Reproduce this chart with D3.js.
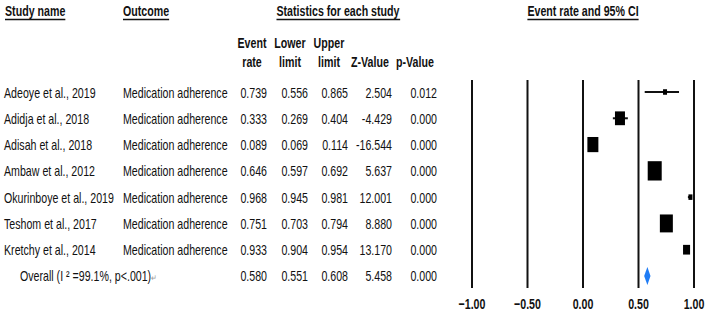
<!DOCTYPE html>
<html>
<head>
<meta charset="utf-8">
<script src="https://cdn.jsdelivr.net/npm/d3@7"></script>
<style>
  body { margin: 0; background: #fff; }
  svg text { font-family: "Liberation Sans", Arial, sans-serif; fill: #111; }
  .hdr { font-weight: bold; font-size: 15px; }
  .cell { font-size: 14px; }
</style>
</head>
<body>
<svg id="chart" width="709" height="322"></svg>
<script>
// Study data
const studies = ['Adeoye et al., 2019', 'Adidja et al., 2018', 'Adisah et al., 2018', 'Ambaw et al., 2012',
  'Okurinboye et al., 2019', 'Teshom et al., 2017', 'Kretchy et al., 2014'];
const outcomes = ['Medication adherence', 'Medication adherence', 'Medication adherence', 'Medication adherence',
  'Medication adherence', 'Medication adherence', 'Medication adherence'];
const eventRate = [0.739, 0.333, 0.089, 0.646, 0.968, 0.751, 0.933];
const lowerLimit = [0.556, 0.269, 0.069, 0.597, 0.945, 0.703, 0.904];
const upperLimit = [0.865, 0.404, 0.114, 0.692, 0.981, 0.794, 0.954];
const zValue = ['2.504', '-4.429', '-16.544', '5.637', '12.001', '8.880', '13.170'];
const pValue = ['0.012', '0.000', '0.000', '0.000', '0.000', '0.000', '0.000'];
const relWeight = [2.4, 15.0, 18.1, 29.4, 2.4, 25.3, 7.4];

// Overall (pooled) result
const overallLabel = 'Overall (I ² =99.1%, p<.001)';
const overall = { rate: 0.580, lower: 0.551, upper: 0.608, z: '5.458', p: '0.000' };

const xTicks = [-1, -0.5, 0, 0.5, 1];

const svg = d3.select('#chart');

// No narrow font is installed, so squeeze a regular sans horizontally
const SQUEEZE = { cell: 0.76, hdr: 0.71 };
function addText(parent, px, py, str, cls, anchor) {
  return parent.append('text')
    .attr('class', cls)
    .attr('transform', `translate(${px},${py}) scale(${SQUEEZE[cls]},1)`)
    .attr('text-anchor', anchor || 'start')
    .text(str);
}

// Scales
const x = d3.scaleLinear().domain([-1, 1]).range([472, 694]);
const rowY = d3.scalePoint()
  .domain(d3.range(studies.length + 1))
  .range([92, 276]);
const boxSize = d3.scaleSqrt().domain([0, d3.max(relWeight)]).range([0, 14]);

// Column headers
const headers = [
  { text: 'Study name', x: 5, anchor: 'start' },
  { text: 'Outcome', x: 123, anchor: 'start' },
  { text: 'Statistics for each study', x: 338, anchor: 'middle' },
  { text: 'Event rate and 95% CI', x: 583, anchor: 'middle' },
];
headers.forEach((h) => {
  const t = addText(svg, h.x, 16, h.text, 'hdr', h.anchor);
  const bb = t.node().getBBox();
  svg.append('line')
    .attr('x1', h.x + bb.x * SQUEEZE.hdr).attr('x2', h.x + (bb.x + bb.width) * SQUEEZE.hdr)
    .attr('y1', 19.5).attr('y2', 19.5)
    .attr('stroke', '#111')
    .attr('stroke-width', 1.4);
});

// Column positions (right aligned numeric columns)
const cols = { rate: 267, lower: 308, upper: 348, z: 392, p: 437 };

const subHeaders = [
  { lines: ['Event', 'rate'], x: 252, anchor: 'middle' },
  { lines: ['Lower', 'limit'], x: 290, anchor: 'middle' },
  { lines: ['Upper', 'limit'], x: 329, anchor: 'middle' },
  { lines: ['', 'Z-Value'], x: 370, anchor: 'middle' },
  { lines: ['', 'p-Value'], x: 415, anchor: 'middle' },
];
subHeaders.forEach((h) => {
  h.lines.forEach((line, i) => {
    addText(svg, h.x, 48 + i * 19, line, 'hdr', h.anchor);
  });
});

// Table rows
const fmt = d3.format('.3f');
const rows = svg.append('g');
studies.forEach((name, i) => {
  const y = rowY(i) + 5.5;
  addText(rows, 4, y, name, 'cell');
  addText(rows, 123, y, outcomes[i], 'cell');
  [[eventRate[i], cols.rate], [lowerLimit[i], cols.lower], [upperLimit[i], cols.upper]].forEach(([v, cx]) => {
    addText(rows, cx, y, fmt(v), 'cell', 'end');
  });
  addText(rows, cols.z, y, zValue[i], 'cell', 'end');
  addText(rows, cols.p, y, pValue[i], 'cell', 'end');
});

// Overall row
const oy = rowY(studies.length) + 5;
const ot = addText(rows, 20, oy, overallLabel, 'cell');
ot.append('tspan').attr('font-size', 9).attr('fill', '#999').text('↵');
[[overall.rate, cols.rate], [overall.lower, cols.lower], [overall.upper, cols.upper]].forEach(([v, cx]) => {
  addText(rows, cx, oy, fmt(v), 'cell', 'end');
});
addText(rows, cols.z, oy, overall.z, 'cell', 'end');
addText(rows, cols.p, oy, overall.p, 'cell', 'end');

// Forest plot reference lines
const plot = svg.append('g');
plot.selectAll('.ref')
  .data(xTicks)
  .enter().append('line')
  .attr('class', 'ref')
  .attr('x1', (d) => x(d)).attr('x2', (d) => x(d))
  .attr('y1', 80).attr('y2', 288)
  .attr('stroke', '#111')
  .attr('stroke-width', 2);

// X axis labels
xTicks.forEach((d) => {
  addText(plot, x(d), 309, d3.format('.2f')(d), 'hdr', 'middle');
});

// Confidence intervals
plot.selectAll('.ci')
  .data(studies.map((s, i) => i))
  .enter().append('line')
  .attr('class', 'ci')
  .attr('x1', (i) => x(lowerLimit[i])).attr('x2', (i) => x(upperLimit[i]))
  .attr('y1', (i) => rowY(i)).attr('y2', (i) => rowY(i))
  .attr('stroke', '#111')
  .attr('stroke-width', 2);

// Weight boxes (taller than wide, as in the original)
plot.selectAll('.box')
  .data(studies.map((s, i) => i))
  .enter().append('rect')
  .attr('class', 'box')
  .attr('x', (i) => x(eventRate[i]) - boxSize(relWeight[i]) / 2)
  .attr('y', (i) => rowY(i) - (boxSize(relWeight[i]) * 1.38) / 2)
  .attr('width', (i) => boxSize(relWeight[i]))
  .attr('height', (i) => boxSize(relWeight[i]) * 1.38)
  .attr('fill', '#000');

// Overall diamond
const dy = rowY(studies.length);
plot.append('path')
  .attr('d', `M${x(overall.lower)},${dy} L${x(overall.rate)},${dy - 9} L${x(overall.upper)},${dy} L${x(overall.rate)},${dy + 9} Z`)
  .attr('fill', '#1f7cf5');
</script>
</body>
</html>
